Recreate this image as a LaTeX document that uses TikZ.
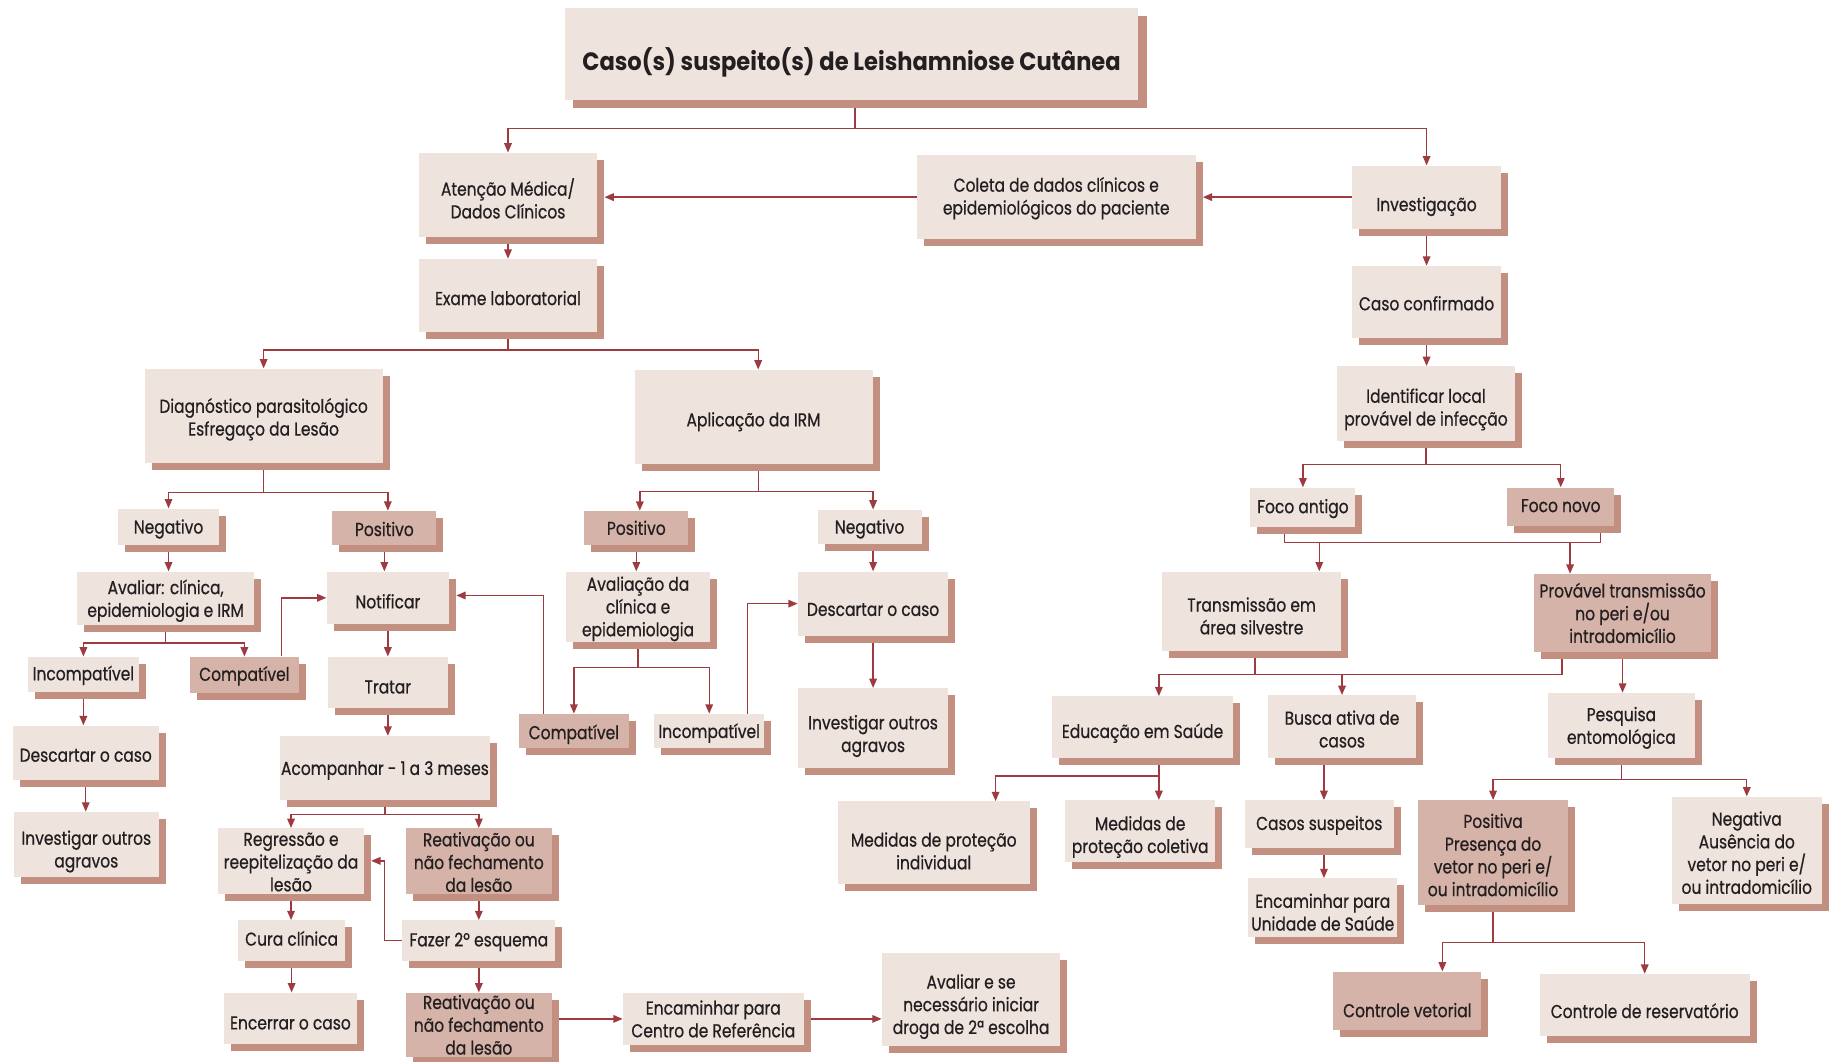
\documentclass[tikz,border=0pt]{standalone}
\usepackage{fontspec}
\setmainfont{Poppins}[FakeStretch=0.83,FakeBold=0.6]
\newfontfamily\titlefont{Poppins}[FakeStretch=0.9]
\usetikzlibrary{arrows.meta,shadows,calc,backgrounds}
\definecolor{lightc}{HTML}{EFE3DE}
\definecolor{darkc}{HTML}{D5B3A8}
\definecolor{shadc}{HTML}{C28F80}
\definecolor{linec}{HTML}{9E3B40}
\definecolor{txtc}{HTML}{231F20}
\gdef\tdy{4}
\newcommand\bx[7][lbox]{\gdef\tdy{4}\node[#1, minimum width={#5-#3}, minimum height={#6-#4}] (#2) at ({(#3+#5)/2},{(#4+#6)/2}) {};
 \node[txt] (#2-t) at ($(#2.center)+(0,\tdy)$) {#7};}
\begin{document}
\begin{tikzpicture}[x=1pt,y=-1pt,
 base/.style={draw=none, inner sep=0pt},
 ty/.code={\gdef\tdy{#1}},
 txt/.style={text=txtc, align=center, inner sep=1pt, font=\fontsize{16}{19.5}\selectfont},
 shad/.style={general shadow={fill=shadc, shadow xshift=#1, shadow yshift=-#1}},
 shad/.default=6pt,
 lbox/.style={base, shad, fill=lightc},
 dbox/.style={base, shad, fill=darkc},
 ln/.style={draw=linec, line width=1.2pt},
 arr/.style={ln, -{Triangle[length=8pt,width=6.5pt]}},
]
\useasboundingbox (0,0) rectangle (1568,910);
\node[base, shad=7pt, fill=lightc, minimum width=492, minimum height=79] (title) at (730,46.5) {};
\node[txt, font=\titlefont\bfseries\fontsize{21.5}{24}\selectfont] (title-t) at ($(title.center)+(0,7)$) {Caso(s) suspeito(s) de Leishamniose Cutânea};
\bx[lbox,ty=3]{aten}{359}{131}{512}{203}{Atenção Médica/\\Dados Clínicos}
\bx[lbox,ty=1]{col}{786}{133}{1025}{205}{Coleta de dados clínicos e\\epidemiológicos do paciente}
\bx[lbox,ty=8]{inv}{1159}{142}{1287}{196}{Investigação}
\bx[lbox,ty=2]{exame}{359}{222}{512}{285}{Exame laboratorial}
\bx[lbox,ty=3]{diag}{124}{316}{328}{397}{Diagnóstico parasitológico\\Esfregaço da Lesão}
\bx{apl}{544}{317}{748}{398}{Aplicação da IRM}
\bx[lbox,ty=2]{negA}{101}{436}{188}{467}{Negativo}
\bx[dbox,ty=1]{posA}{285}{438}{374}{467}{Positivo}
\bx[lbox,ty=2]{avA}{66}{490}{218}{536}{Avaliar: clínica,\\epidemiologia e IRM}
\bx[lbox,ty=1]{incA}{24}{563}{119}{593}{Incompatível}
\bx[dbox,ty=1]{compA}{163}{563}{256}{594}{Compatível}
\bx[lbox,ty=2]{descA}{11}{622}{136}{669}{Descartar o caso}
\bx[lbox,ty=6]{invA}{12}{696}{136}{752}{Investigar outros\\agravos}
\bx[lbox,ty=3]{notif}{280}{490}{385}{535}{Notificar}
\bx{tratar}{281}{563}{384}{607}{Tratar}
\bx[lbox,ty=2]{acomp}{240}{631}{420}{686}{Acompanhar - 1 a 3 meses}
\bx[lbox,ty=1]{regr}{187}{710}{312}{766}{Regressão e\\reepitelização da\\lesão}
\bx[dbox,ty=1]{reatA}{348}{710}{473}{766}{Reativação ou\\não fechamento\\da lesão}
\bx[lbox,ty=-2]{cura}{204}{789}{296}{824}{Cura clínica}
\bx[lbox,ty=4]{encer}{192}{851}{306}{895}{Encerrar o caso}
\bx[lbox,ty=1]{fazer}{345}{789}{476}{824}{Fazer 2º esquema}
\bx[dbox,ty=0]{reatB}{348}{851}{473}{906}{Reativação ou\\não fechamento\\da lesão}
\bx[lbox,ty=0]{encCR}{534}{851}{689}{896}{Encaminhar para\\Centro de Referência}
\bx[lbox,ty=6]{avSe}{756}{817}{909}{897}{Avaliar e se\\necessário iniciar\\droga de 2ª escolha}
\bx[dbox,ty=0]{posB}{501}{438}{590}{467}{Positivo}
\bx[lbox,ty=2]{negB}{701}{437}{790}{466}{Negativo}
\bx[lbox,ty=2]{avB}{485}{490}{609}{550}{Avaliação da\\clínica e\\epidemiologia}
\bx[dbox,ty=3]{compB}{445}{612}{539}{641}{Compatível}
\bx[lbox,ty=2]{incB}{561}{612}{655}{641}{Incompatível}
\bx[lbox,ty=5]{descB}{684}{490}{813}{545}{Descartar o caso}
\bx[lbox,ty=7]{invB}{684}{590}{813}{658}{Investigar outros\\agravos}
\bx[lbox,ty=1]{caso}{1159}{228}{1287}{290}{Caso confirmado}
\bx[lbox,ty=5]{ident}{1146}{314}{1299}{378}{Identificar local\\provável de infecção}
\bx[lbox,ty=1]{fa}{1072}{418}{1162}{452}{Foco antigo}
\bx[dbox,ty=-1]{fn}{1292}{418}{1384}{451}{Foco novo}
\bx{trans}{996}{490}{1150}{558}{Transmissão em\\área silvestre}
\bx[dbox,ty=0]{prov}{1315}{492}{1467}{559}{Provável transmissão\\no peri e/ou\\intradomicílio}
\bx[lbox,ty=5]{educ}{902}{597}{1057}{650}{Educação em Saúde}
\bx[lbox,ty=2]{busca}{1087}{596}{1214}{650}{Busca ativa de\\casos}
\bx[lbox,ty=2]{pesq}{1327}{594}{1453}{650}{Pesquisa\\entomológica}
\bx[lbox,ty=7]{medI}{718}{687}{883}{758}{Medidas de proteção\\individual}
\bx[lbox,ty=5]{medC}{913}{686}{1042}{739}{Medidas de\\proteção coletiva}
\bx[lbox,ty=1]{casos}{1067}{686}{1195}{727}{Casos suspeitos}
\bx{encUS}{1070}{753}{1198}{803}{Encaminhar para\\Unidade de Saúde}
\bx[dbox,ty=2]{posV}{1216}{686}{1344}{776}{Positiva\\Presença do\\vetor no peri e/\\ou intradomicílio}
\bx[lbox,ty=2]{negV}{1433}{683}{1562}{775}{Negativa\\Ausência do\\vetor no peri e/\\ou intradomicílio}
\bx[dbox,ty=8]{cv}{1143}{833}{1270}{883}{Controle vetorial}
\bx[lbox,ty=5]{cr}{1320}{835}{1500}{888}{Controle de reservatório}
\begin{pgfonlayer}{background}
\fill[white] (0,0) rectangle (1568,910);
\draw[arr] ($(title.south)+(3,0)$) -- ++(0,24) -| (aten.north);
\draw[arr] ($(title.south)+(3,0)$) -- ++(0,24) -| (inv.north);
\draw[arr] (inv.west) -- ($(inv.west -| col.east)+(6,0)$);
\draw[arr] (col.west) -- ($(col.west -| aten.east)+(6,0)$);
\draw[arr] (aten.south) -- (exame.north);
\draw[arr] (exame.south) -- ++(0,15) -| (diag.north);
\draw[arr] (exame.south) -- ++(0,15) -| ($(apl.north)+(4,0)$);
\draw[arr] (diag.south) -- ++(0,25) -| (negA.north);
\draw[arr] (diag.south) -- ++(0,25) -| ($(posA.north)+(3,0)$);
\draw[arr] (negA.south) -- (negA.south |- avA.north);
\draw[arr] (avA.south) -- ++(0,15) -| (incA.north);
\draw[arr] (avA.south) -- ++(0,15) -| (compA.north);
\draw[arr] (incA.south) -- (incA.south |- descA.north);
\draw[arr] (descA.south) -- (descA.south |- invA.north);
\draw[arr] ($(compA.north)+(32,0)$) |- (notif.west);
\draw[arr] (posA.south) -- (posA.south |- notif.north);
\draw[arr] (notif.south) -- (notif.south |- tratar.north);
\draw[arr] (tratar.south) -- (tratar.south |- acomp.north);
\draw[arr] (acomp.south) -- ++(0,12) -| (regr.north);
\draw[arr] (acomp.south) -- ++(0,12) -| (reatA.north);
\draw[arr] (regr.south) -- (regr.south |- cura.north);
\draw[arr] (cura.south) -- (cura.south |- encer.north);
\draw[arr] (reatA.south) -- (reatA.south |- fazer.north);
\draw[arr] (fazer.west) -- ++(-15,0) |- ($(regr.east)+(6,0)$);
\draw[arr] (fazer.south) -- (fazer.south |- reatB.north);
\draw[arr] (reatB.east |- encCR.west) -- (encCR.west);
\draw[arr] (encCR.east) -- (encCR.east -| avSe.west);
\draw[arr] ($(apl.south)+(4,0)$) -- ++(0,23) -| ($(posB.north)+(3,0)$);
\draw[arr] ($(apl.south)+(4,0)$) -- ++(0,23) -| ($(negB.north)+(3,0)$);
\draw[arr] (posB.south) -- (posB.south |- avB.north);
\draw[arr] (avB.south) -- ++(0,22) -| (compB.north);
\draw[arr] (avB.south) -- ++(0,22) -| (incB.north);
\draw[arr] ($(compB.north)+(-26,0)$) |- ($(notif.east)+(6,-2)$);
\draw[arr] ($(incB.north)+(33,0)$) |- (descB.west);
\draw[arr] (descB.north |- negB.south) -- (descB.north);
\draw[arr] (descB.south) -- (descB.south |- invB.north);
\draw[arr] (inv.south) -- (inv.south |- caso.north);
\draw[arr] (caso.south) -- (caso.south |- ident.north);
\draw[arr] (ident.south) -- ++(0,20) -| (fa.north);
\draw[arr] (ident.south) -- ++(0,20) -| (fn.north);
\coordinate (fj) at ($(fa.south)+(-16,13)$);
\draw[ln] ($(fa.south)+(-16,0)$) -- (fj) -| ($(fn.south)+(34,0)$);
\coordinate (transT) at ($(trans.north)+(58,0)$);
\coordinate (provT) at ($(prov.north)+(-45,0)$);
\draw[arr] (fj -| transT) -- (transT);
\draw[arr] (fj -| provT) -- (provT);
\coordinate (tj) at ($(trans.south)+(3,20)$);
\coordinate (educT) at ($(educ.north)+(14,0)$);
\draw[ln] ($(trans.south)+(3,0)$) -- (tj);
\draw[ln] ($(prov.south)+(-52,0)$) |- (tj -| educT);
\draw[arr] (tj -| educT) -- (educT);
\draw[arr] (tj -| busca.north) -- (busca.north);
\draw[arr] (prov.south) -- (prov.south |- pesq.north);
\draw[arr] (educT |- educ.south) -- (educT |- medC.north);
\coordinate (medIT) at ($(medI.north)+(53,0)$);
\draw[arr] (educT |- educ.south) -- ++(0,15) -| (medIT);
\coordinate (casT) at ($(casos.north)+(4,0)$);
\draw[arr] (casT |- busca.south) -- (casT);
\draw[arr] (casT |- casos.south) -- (casT |- encUS.north);
\draw[arr] (pesq.south) -- ++(0,18) -| (posV.north);
\draw[arr] (pesq.south) -- ++(0,18) -| (negV.north);
\draw[arr] (posV.south) -- ++(0,32) -| ($(cv.north)+(30,0)$);
\draw[arr] (posV.south) -- ++(0,32) -| (cr.north);
\end{pgfonlayer}
\end{tikzpicture}
\end{document}
